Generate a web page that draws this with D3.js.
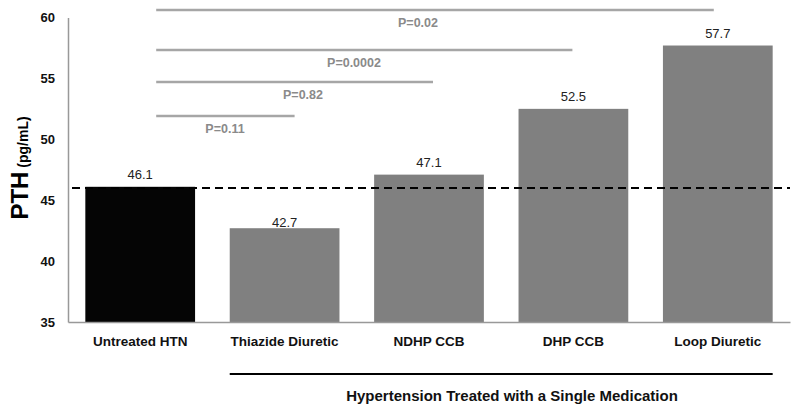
<!DOCTYPE html>
<html><head><meta charset="utf-8">
<script src="https://cdn.jsdelivr.net/npm/d3@7"></script>
<style>body{margin:0;background:#fff}svg{display:block;font-family:"Liberation Sans",Arial,sans-serif}</style>
</head><body><svg id="c" width="800" height="412"></svg>
<script>
const categories = ["Untreated HTN","Thiazide Diuretic","NDHP CCB","DHP CCB","Loop Diuretic"];
const values = [46.1, 42.7, 47.1, 52.5, 57.7];
const barColors = ["#050505","#808080","#808080","#808080","#808080"];
const yTicks = [35,40,45,50,55,60];
const refValue = 46.0;
const comparisons = [
  {label:"P=0.02",   to:"Loop Diuretic"},
  {label:"P=0.0002", to:"DHP CCB"},
  {label:"P=0.82",   to:"NDHP CCB"},
  {label:"P=0.11",   to:"Thiazide Diuretic"}
];
const groupTitle = "Hypertension Treated with a Single Medication";

const svg = d3.select("#c");
const x = d3.scaleBand().domain(categories).range([68,790]).paddingInner(0.24).paddingOuter(0.12);
const y = d3.scaleLinear().domain([35,60]).range([322,17.5]);

// y axis
const yAxis = svg.append("g").attr("transform","translate(68,0)")
  .call(d3.axisLeft(y).tickValues(yTicks).tickSize(0).tickPadding(13));
yAxis.select(".domain").attr("stroke","#999").attr("stroke-width",1.5);
yAxis.selectAll("text").attr("font-size",13).attr("font-weight","bold").attr("fill","#111")
  .attr("font-family","Liberation Sans, Arial, sans-serif");

// bars
svg.append("g").selectAll("rect").data(categories).join("rect")
  .attr("x",d=>x(d)).attr("width",x.bandwidth())
  .attr("y",(d,i)=>y(values[i])).attr("height",(d,i)=>y(35)-y(values[i]))
  .attr("fill",(d,i)=>barColors[i]);

// x axis
const xAxis = svg.append("g").attr("transform","translate(0,322)")
  .call(d3.axisBottom(x).tickSize(0).tickPadding(14));
xAxis.select(".domain").attr("stroke","#999").attr("stroke-width",1.5);
xAxis.selectAll("text").attr("font-size",13.5).attr("font-weight","bold").attr("fill","#111")
  .attr("font-family","Liberation Sans, Arial, sans-serif");

// value labels
svg.append("g").selectAll("text").data(categories).join("text")
  .attr("x",d=>x(d)+x.bandwidth()/2)
  .attr("y",(d,i)=> i===1 ? y(values[i])-1 : y(values[i])-8)
  .attr("text-anchor","middle").attr("font-size",13).attr("fill","#222")
  .text((d,i)=>values[i].toFixed(1));

// reference dashed line
svg.append("line").attr("x1",72).attr("x2",790).attr("y1",y(refValue)).attr("y2",y(refValue))
  .attr("stroke","#000").attr("stroke-width",2.2).attr("stroke-dasharray","8,5");

// comparison lines
const lineYs = [10,50,82,116];
const endOffsets = [-4,-1,4,10];
const labelXs = [418,354,303,225];
const startX = x(categories[0]) + x.bandwidth()/2 + 16;
comparisons.forEach((c,i)=>{
  const endX = x(c.to) + x.bandwidth()/2 + endOffsets[i];
  svg.append("line").attr("x1",startX).attr("x2",endX).attr("y1",lineYs[i]).attr("y2",lineYs[i])
    .attr("stroke","#a6a6a6").attr("stroke-width",2.5);
  svg.append("text").attr("x",labelXs[i]).attr("y",lineYs[i]+17).attr("text-anchor","middle")
    .attr("font-size",12.5).attr("font-weight","bold").attr("fill","#8a8a8a").text(c.label);
});

// group bracket
svg.append("line").attr("x1",x(categories[1])).attr("x2",x(categories[4])+x.bandwidth())
  .attr("y1",374).attr("y2",374).attr("stroke","#000").attr("stroke-width",2);
svg.append("text").attr("x",512).attr("y",401)
  .attr("text-anchor","middle").attr("font-size",15).attr("font-weight","bold").attr("fill","#111").text(groupTitle);

// y label
const yl = svg.append("text").attr("transform","translate(28,168) rotate(-90)").attr("text-anchor","middle")
  .attr("fill","#000").attr("font-weight","bold");
yl.append("tspan").attr("font-size",24).text("PTH");
yl.append("tspan").attr("font-size",14).text(" (pg/mL)");
</script></body></html>
